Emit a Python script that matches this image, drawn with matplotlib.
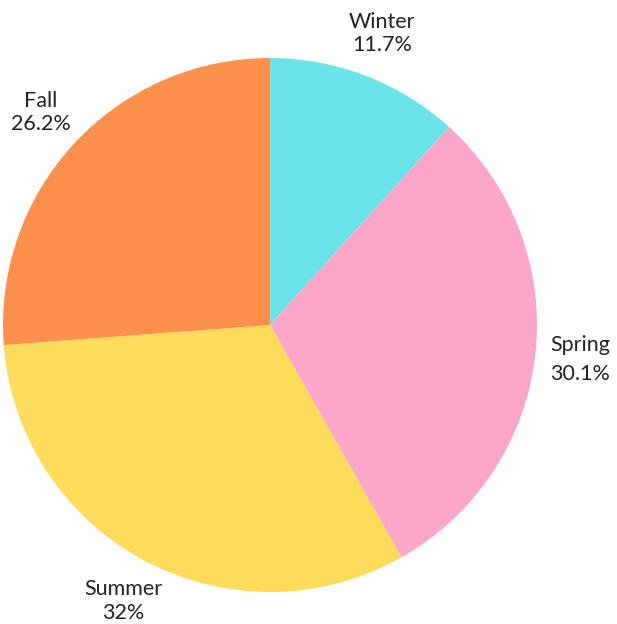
import matplotlib
matplotlib.use("Agg")
import matplotlib.pyplot as plt

seasons = ["Winter", "Spring", "Summer", "Fall"]
shares = [11.7, 30.1, 32.0, 26.2]
share_labels = ["11.7%", "30.1%", "32%", "26.2%"]
colors = ["#6ae4e8", "#fca7c9", "#fddb5b", "#fc914e"]

plt.rcParams['font.family'] = ['Lato', 'DejaVu Sans']

fig = plt.figure(figsize=(6.17, 6.24), dpi=100)
# square axes in pixel space, pie fills it
ax = fig.add_axes([3 / 617, 32 / 624, 534 / 617, 534 / 624])

labels = [f"{s}\n{p}" for s, p in zip(seasons, share_labels)]
wedges, texts = ax.pie(shares, labels=labels, colors=colors, startangle=90,
                       counterclock=False, labeldistance=1.17, radius=1,
                       textprops=dict(fontsize=15.5, color="#222222"))
spacing = [1.15, 1.55, 1.25, 1.15]
for t, ls in zip(texts, spacing):
    t.set_ha("center")
    t.set_va("center")
    t.set_linespacing(ls)

ax.set_xlim(-1, 1)
ax.set_ylim(-1, 1)
ax.set_aspect("equal")
ax.axis("off")

fig.savefig("out.png", dpi=100)
